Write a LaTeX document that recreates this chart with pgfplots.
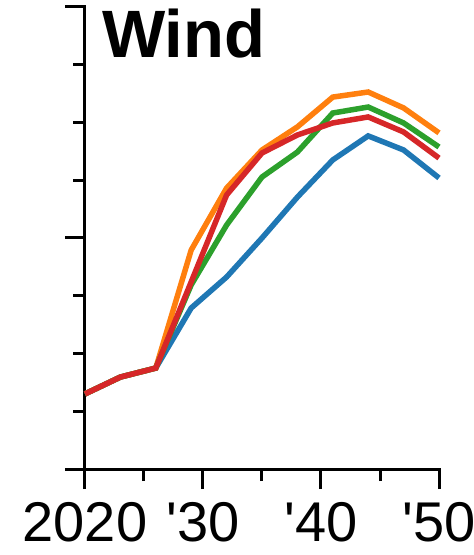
\documentclass[border=0pt]{standalone}
\usepackage{pgfplots}
\pgfplotsset{compat=1.18}
\usepackage{fontspec}
\setmainfont{Liberation Sans}
\newfontfamily\tickfont{Liberation Sans}
\definecolor{tabblue}{HTML}{1F77B4}
\definecolor{taborange}{HTML}{FF7F0E}
\definecolor{tabgreen}{HTML}{2CA02C}
\definecolor{tabred}{HTML}{D62728}
\begin{document}
\begin{tikzpicture}
\useasboundingbox (-85pt,-86pt) rectangle (389pt,469pt);
\begin{axis}[
  at={(0,0)}, anchor=south west,
  scale only axis, width=354pt, height=462pt,
  xmin=2020, xmax=2050, ymin=0, ymax=2,
  axis x line*=bottom, axis y line*=left,
  axis line style={line width=3pt, line cap=rect},
  xtick={2020,2030,2040,2050},
  xticklabels={2020,'30,'40,'50},
  minor x tick num=1,
  ytick={0,1,2}, yticklabels={},
  minor y tick num=3,
  tick align=outside,
  major tick length=20pt, minor tick length=12pt,
  every tick/.style={line width=3pt, black},
  tick label style={font=\tickfont\fontsize{56}{60}\selectfont},
  xticklabel style={yshift=-10pt},
  /pgf/number format/assume math mode=true,
  clip=false,
]
\addplot[tabblue, line width=5.5pt] coordinates {
(2020,0.325) (2023,0.398) (2026,0.437) (2029,0.697) (2032,0.831) (2035,1.0)
(2038,1.177) (2041,1.338) (2044,1.442) (2047,1.381) (2050,1.260)};
\addplot[taborange, line width=5.5pt] coordinates {
(2020,0.325) (2023,0.398) (2026,0.437) (2029,0.948) (2032,1.216) (2035,1.381)
(2038,1.481) (2041,1.610) (2044,1.632) (2047,1.563) (2050,1.455)};
\addplot[tabgreen, line width=5.5pt] coordinates {
(2020,0.325) (2023,0.398) (2026,0.437) (2029,0.797) (2032,1.056) (2035,1.264)
(2038,1.372) (2041,1.541) (2044,1.567) (2047,1.498) (2050,1.394)};
\addplot[tabred, line width=5.5pt] coordinates {
(2020,0.325) (2023,0.398) (2026,0.437) (2029,0.810) (2032,1.186) (2035,1.368)
(2038,1.446) (2041,1.498) (2044,1.524) (2047,1.459) (2050,1.346)};
\node[anchor=north west, inner sep=0pt, font=\fontsize{67}{70}\selectfont\bfseries]
  at (rel axis cs:0,1) [xshift=17pt, yshift=-2pt] {Wind};
\end{axis}
\end{tikzpicture}
\end{document}
